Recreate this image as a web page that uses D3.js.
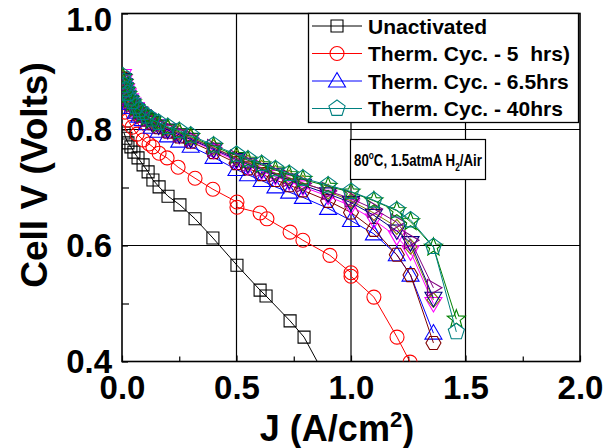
<!DOCTYPE html>
<html><head><meta charset="utf-8">
<script src="https://cdn.jsdelivr.net/npm/d3@7"></script>
<style>
body{margin:0;background:#fff}
svg{display:block}
text{font-family:"Liberation Sans",Arial,sans-serif;font-weight:bold;fill:#000}
</style>
</head><body>
<svg id="c" width="608" height="448"></svg>
<script>
// ---------- data ----------
const xTicks = [0.0, 0.5, 1.0, 1.5, 2.0];
const yTicks = [0.4, 0.6, 0.8, 1.0];
const xMinor = [0.25, 0.75, 1.25, 1.75];
const yMinor = [0.5, 0.7, 0.9];
const xGrid = [0.5, 1.0, 1.5];
const yGrid = [0.6, 0.8];

const jUnact = [0.009,0.017,0.026,0.039,0.052,0.070,0.092,0.114,0.135,0.162,0.201,0.253,0.319,0.397,0.502,0.603,0.629,0.734,0.795,0.880];
const vUnact = [0.794,0.785,0.777,0.770,0.761,0.751,0.739,0.727,0.713,0.701,0.685,0.670,0.646,0.613,0.566,0.523,0.513,0.470,0.442,0.380];

const j5h = [0.004,0.013,0.026,0.044,0.066,0.092,0.118,0.135,0.162,0.197,0.245,0.319,0.397,0.502,0.502,0.603,0.633,0.734,0.790,0.908,1.000,1.000,1.100,1.201,1.258];
const v5h = [0.846,0.830,0.816,0.804,0.792,0.782,0.775,0.770,0.759,0.751,0.735,0.716,0.697,0.675,0.666,0.656,0.646,0.623,0.609,0.583,0.553,0.547,0.511,0.442,0.399];

// shared current-density grid of the heat-treated runs
const jCluster = [0.004,0.008,0.012,0.018,0.025,0.035,0.045,0.06,0.075,0.09,0.11,0.13,0.16,0.2,0.25,0.3,0.4,0.5,0.55,0.61,0.67,0.73,0.79,0.9,1.0,1.1,1.2,1.26,1.36,1.46];
const v65h   = [0.885,0.876,0.869,0.861,0.853,0.845,0.838,0.830,0.823,0.817,0.810,0.804,0.797,0.789,0.780,0.771,0.752,0.731,0.722,0.712,0.701,0.692,0.683,0.664,0.643,0.620,0.584,0.549,0.449];
const vWine  = [0.887,0.878,0.871,0.864,0.857,0.849,0.843,0.835,0.829,0.824,0.817,0.811,0.804,0.796,0.788,0.779,0.761,0.742,0.733,0.723,0.713,0.704,0.695,0.677,0.657,0.627,0.584,0.549,0.432];
const vMag   = [0.893,0.884,0.876,0.868,0.860,0.851,0.844,0.836,0.829,0.824,0.818,0.812,0.806,0.798,0.790,0.782,0.764,0.746,0.737,0.728,0.719,0.710,0.701,0.685,0.668,0.644,0.615,0.589,0.500];
const vOlive = [0.889,0.880,0.873,0.866,0.859,0.851,0.845,0.837,0.831,0.826,0.820,0.815,0.809,0.802,0.794,0.786,0.769,0.751,0.743,0.734,0.725,0.717,0.708,0.693,0.677,0.656,0.632,0.598,0.506];
const vNavy  = [0.886,0.877,0.870,0.863,0.856,0.848,0.842,0.834,0.828,0.823,0.817,0.812,0.806,0.799,0.791,0.783,0.766,0.748,0.740,0.731,0.722,0.713,0.704,0.689,0.674,0.652,0.625,0.605,0.509];
const vPurp  = [0.888,0.879,0.872,0.865,0.858,0.850,0.844,0.836,0.830,0.825,0.819,0.814,0.808,0.801,0.793,0.785,0.768,0.750,0.742,0.733,0.724,0.716,0.707,0.694,0.681,0.663,0.640,0.609,0.527];
const vStar  = [0.890,0.881,0.874,0.867,0.860,0.852,0.846,0.838,0.832,0.827,0.821,0.816,0.810,0.803,0.796,0.788,0.771,0.755,0.747,0.739,0.730,0.722,0.714,0.702,0.692,0.677,0.660,0.641,0.597,0.473];
const v40h   = [0.892,0.883,0.876,0.869,0.862,0.854,0.848,0.840,0.834,0.829,0.823,0.818,0.812,0.805,0.798,0.790,0.773,0.757,0.749,0.741,0.732,0.724,0.716,0.704,0.693,0.678,0.661,0.644,0.598,0.451];

const legendLabels = ["Unactivated", "Therm. Cyc. - 5  hrs)", "Therm. Cyc. - 6.5hrs", "Therm. Cyc. - 40hrs"];

// ---------- build series ----------
const zip = (js, vs) => vs.map((v, i) => [js[i], v]);
const series = [
  {pts: zip(jUnact, vUnact), color: "#000000", shape: "square", legend: 0},
  {pts: zip(j5h, v5h), color: "#ff0000", shape: "circle", legend: 1},
  {pts: zip(jCluster, v65h), color: "#0000ff", shape: "triUp", legend: 2},
  {pts: zip(jCluster, vWine), color: "#800000", shape: "hexagon"},
  {pts: zip(jCluster, vMag), color: "#ff00ff", shape: "triDown"},
  {pts: zip(jCluster, vOlive), color: "#808000", shape: "diamond"},
  {pts: zip(jCluster, vNavy), color: "#000080", shape: "triDown"},
  {pts: zip(jCluster, vPurp), color: "#800080", shape: "triRight"},
  {pts: zip(jCluster, vStar), color: "#008000", shape: "star"},
  {pts: zip(jCluster, v40h), color: "#008080", shape: "pentagon", legend: 3}
];

function poly(pts){ return "M" + pts.map(p => p[0].toFixed(2) + "," + p[1].toFixed(2)).join("L") + "Z"; }
function regular(n, r, rot){ const a=[]; for(let i=0;i<n;i++){ const t=rot+i*2*Math.PI/n; a.push([r*Math.cos(t), r*Math.sin(t)]);} return a; }
function shapePath(s){
  switch(s){
    case "square": return poly([[-6,-6],[6,-6],[6,6],[-6,6]]);
    case "circle": return "M7,0A7,7 0 1,1 -7,0A7,7 0 1,1 7,0Z";
    case "triUp": return poly([[0,-8.5],[8.5,6],[-8.5,6]]);
    case "triDown": return poly([[0,8.5],[8.5,-6],[-8.5,-6]]);
    case "triRight": return poly([[8.5,0],[-6,-8.5],[-6,8.5]]);
    case "diamond": return poly([[0,-7.5],[6.5,0],[0,7.5],[-6.5,0]]);
    case "hexagon": return poly(regular(6, 7.5, 0));
    case "pentagon": return poly(regular(5, 8.5, -Math.PI/2));
    case "star": { const a=[]; for(let i=0;i<10;i++){ const r=i%2?4:9.5; const t=-Math.PI/2+i*Math.PI/5; a.push([r*Math.cos(t), r*Math.sin(t)]);} return poly(a); }
  }
}

// ---------- scales ----------
const svg = d3.select("#c");
const x = d3.scaleLinear().domain([0, 2]).range([122, 580]);
const y = d3.scaleLinear().domain([0.4, 1.0]).range([361.5, 13.5]);

svg.append("defs").append("clipPath").attr("id","clip")
  .append("rect").attr("x", x(0)).attr("y", y(1.0)).attr("width", x(2)-x(0)).attr("height", y(0.4)-y(1.0));

// gridlines
const grid = svg.append("g").attr("stroke", "#000").attr("stroke-width", 1.2);
grid.selectAll("line.gx").data(xGrid).join("line")
  .attr("x1", d => x(d)).attr("x2", d => x(d)).attr("y1", y(0.4)).attr("y2", y(1.0));
grid.selectAll("line.gy").data(yGrid).join("line")
  .attr("y1", d => y(d)).attr("y2", d => y(d)).attr("x1", x(0)).attr("x2", x(2));

// axes
const fmt = d3.format(".1f");
const xAxis = svg.append("g").attr("transform", `translate(0,${y(0.4)})`)
  .call(d3.axisBottom(x).tickValues(xTicks).tickSize(-6).tickSizeOuter(0).tickPadding(14).tickFormat(fmt));
const xAxisMinor = svg.append("g").attr("transform", `translate(0,${y(0.4)})`)
  .call(d3.axisBottom(x).tickValues(xMinor).tickSize(-5).tickSizeOuter(0).tickFormat(""));
const yAxis = svg.append("g").attr("transform", `translate(${x(0)},0)`)
  .call(d3.axisLeft(y).tickValues(yTicks).tickSize(-6).tickSizeOuter(0).tickPadding(10).tickFormat(fmt));
const yAxisMinor = svg.append("g").attr("transform", `translate(${x(0)},0)`)
  .call(d3.axisLeft(y).tickValues(yMinor).tickSize(-7).tickSizeOuter(0).tickFormat(""));
[xAxis, xAxisMinor, yAxis, yAxisMinor].forEach(g => {
  g.select(".domain").remove();
  g.selectAll("line").attr("stroke", "#000").attr("stroke-width", 1.2);
  g.selectAll("text").style("font-size", "33px").style("font-family", '"Liberation Sans",Arial,sans-serif').style("font-weight", "bold").attr("fill", "#000");
});
// keep the top label inside the picture
yAxis.selectAll(".tick").filter(d => d === 1.0).select("text").attr("dy", "0.52em");

// frame
svg.append("rect").attr("x", x(0)).attr("y", y(1.0)).attr("width", x(2)-x(0)).attr("height", y(0.4)-y(1.0))
  .attr("fill", "none").attr("stroke", "#000").attr("stroke-width", 1.6);

// series
const plot = svg.append("g").attr("clip-path", "url(#clip)");
const line = d3.line().x(d => x(d[0])).y(d => y(d[1]));
series.forEach(s => {
  const g = plot.append("g");
  g.append("path").attr("d", line(s.pts)).attr("fill", "none").attr("stroke", s.color).attr("stroke-width", 1);
  g.selectAll("path.m").data(s.pts).join("path").attr("class", "m")
    .attr("transform", d => `translate(${x(d[0])},${y(d[1])})`)
    .attr("d", shapePath(s.shape)).attr("fill", "none").attr("stroke", s.color).attr("stroke-width", 1.1);
});

// axis titles
svg.append("text").attr("transform", "translate(47,175) rotate(-90)").attr("text-anchor", "middle")
  .style("font-size", "37px").text("Cell V (Volts)");
const xt = svg.append("text").attr("x", 337).attr("y", 441).attr("text-anchor", "middle").style("font-size", "36px");
xt.append("tspan").text("J (A/cm");
xt.append("tspan").attr("dy", -14).style("font-size", "22px").text("2");
xt.append("tspan").attr("dy", 14).text(")");

// legend
const lg = svg.append("g");
lg.append("rect").attr("x", 308.5).attr("y", 13.5).attr("width", 270).attr("height", 109)
  .attr("fill", "#fff").attr("stroke", "#000").attr("stroke-width", 1.3);
series.filter(s => s.legend !== undefined).forEach(s => {
  const cy = 26 + s.legend * 27.5;
  lg.append("line").attr("x1", 312).attr("x2", 362).attr("y1", cy).attr("y2", cy).attr("stroke", s.color).attr("stroke-width", 1);
  lg.append("path").attr("transform", `translate(337,${cy})`).attr("d", shapePath(s.shape))
    .attr("fill", "none").attr("stroke", s.color).attr("stroke-width", 1.1);
  lg.append("text").attr("x", 368).attr("y", cy + 7.5).style("font-size", "21px").style("white-space", "pre")
    .text(legendLabels[s.legend]);
});

// annotation
const an = svg.append("g");
an.append("rect").attr("x", 350.5).attr("y", 139.5).attr("width", 135).attr("height", 40)
  .attr("fill", "#fff").attr("stroke", "#000").attr("stroke-width", 1.2);
const ag = an.append("g");
const at = ag.append("text").attr("x", 0).attr("y", 0).style("font-size", "16px");
at.append("tspan").text("80");
at.append("tspan").attr("dy", -7).style("font-size", "10px").text("o");
at.append("tspan").attr("dy", 7).text("C, 1.5atmA H");
at.append("tspan").attr("dy", 5).style("font-size", "10px").text("2");
at.append("tspan").attr("dy", -5).text("/Air");
const w = at.node().getBBox().width;
const sx = Math.min(1, 128 / w);
ag.attr("transform", `translate(354,166) scale(${sx.toFixed(3)},1)`);
</script>
</body></html>
